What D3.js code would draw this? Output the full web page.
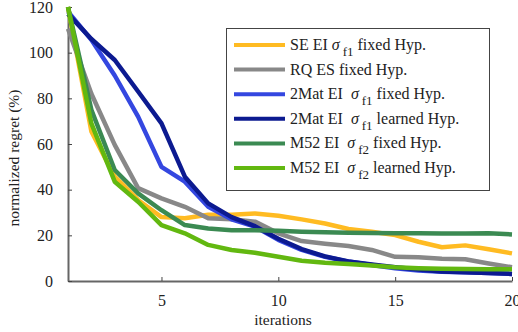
<!DOCTYPE html>
<html>
<head>
<meta charset="utf-8">
<script src="https://cdn.jsdelivr.net/npm/d3@7/dist/d3.min.js"></script>
<style>
  body { margin: 0; background: #fff; }
  svg text { font-family: "Liberation Serif", "Times New Roman", "DejaVu Serif", serif; fill: #222; }
</style>
</head>
<body>
<svg width="518" height="332"></svg>
<script>
var iterations = d3.range(1, 21);

var seEiFixed     = [120, 65.5, 45.7, 35.5, 28, 27.5, 29, 29, 29.6, 28.6, 27, 25.2, 22.8, 21.6, 20.1, 17.2, 14.8, 15.6, 13.9, 12.1];
var rqEsFixed     = [110.5, 82, 59.6, 40.7, 36.2, 32.5, 27.5, 27, 26, 20.9, 17.5, 16.3, 15.3, 13.6, 10.6, 10.4, 9.7, 9.5, 7.7, 6];
var mat2EiFixed   = [118, 105.6, 90, 72, 50, 43.5, 32.5, 27, 23.8, 18, 13.6, 10.6, 8.5, 7, 5.6, 4.6, 4, 3.8, 3.5, 3.1];
var mat2EiLearned = [117, 106, 96.8, 83, 69, 45.7, 34, 28, 24, 18.5, 14, 10.8, 8.6, 7.2, 6, 5, 4.2, 3.8, 3.5, 3.1];
var m52EiFixed    = [120, 75, 48.6, 38.4, 31, 24.5, 23, 22.2, 22.2, 22, 21.6, 21.3, 21.1, 21, 20.9, 20.9, 20.8, 20.8, 20.9, 20.4];
var m52EiLearned  = [120, 69, 43.5, 34.7, 24.5, 20.9, 15.8, 13.6, 12.4, 10.6, 8.9, 8, 7.4, 6.8, 6, 5.6, 5.4, 5.3, 5.2, 5.1];

var seriesNames  = ["SE EI", "RQ ES", "2Mat EI", "2Mat EI", "M52 EI", "M52 EI"];
var seriesSigma  = ["f1", null, "f1", "f1", "f2", "f2"];
var seriesSuffix = ["fixed Hyp.", "fixed Hyp.", "fixed Hyp.", "learned Hyp.", "fixed Hyp.", "learned Hyp."];
var seriesColors = ["#ffbb22", "#888888", "#3447e0", "#0c1a90", "#3b8a52", "#62b810"];
var seriesValues = [seEiFixed, rqEsFixed, mat2EiFixed, mat2EiLearned, m52EiFixed, m52EiLearned];

var xTicks = [5, 10, 15, 20];
var yTicks = [0, 20, 40, 60, 80, 100, 120];

var svg = d3.select("svg");
var mLeft = 68, mRight = 512, mTop = 7, mBottom = 281;

var x = d3.scaleLinear().domain([1, 20]).range([mLeft, mRight]);
var y = d3.scaleLinear().domain([0, 120]).range([mBottom, mTop]);

// axes (inward ticks, no frame)
var xAxis = svg.append("g").attr("transform", "translate(0," + mBottom + ")")
  .call(d3.axisBottom(x).tickValues(xTicks).tickSizeInner(-4).tickSizeOuter(0).tickPadding(14));
var yAxis = svg.append("g").attr("transform", "translate(" + mLeft + ",0)")
  .call(d3.axisLeft(y).tickValues(yTicks).tickSizeInner(-4).tickSizeOuter(0).tickPadding(15));
[xAxis, yAxis].forEach(function(a){
  a.attr("font-family", null);
  a.select(".domain").attr("stroke", "#666").attr("stroke-width", 2);
  a.selectAll(".tick line").attr("stroke", "#444");
  a.selectAll(".tick text").attr("font-size", 16).attr("fill", "#222");
});

svg.append("text").attr("x", 283).attr("y", 325).attr("text-anchor", "middle")
  .attr("font-size", 15.5).text("iterations");
svg.append("text").attr("transform", "translate(19,158) rotate(-90)")
  .attr("text-anchor", "middle").attr("font-size", 15.5).text("normalized regret (%)");

var line = d3.line().x(function(d, i){ return x(iterations[i]); }).y(function(d){ return y(d); });

svg.append("g").selectAll("path").data(seriesValues).enter().append("path")
  .attr("d", line)
  .attr("fill", "none")
  .attr("stroke", function(d, i){ return seriesColors[i]; })
  .attr("stroke-width", 4.5)
  .attr("stroke-linejoin", "round");

// legend
var lg = svg.append("g");
lg.append("rect").attr("x", 226.5).attr("y", 28.5).attr("width", 263).attr("height", 162)
  .attr("fill", "#fff").attr("stroke", "#444").attr("stroke-width", 1);

seriesNames.forEach(function(name, i){
  var ry = 45 + i * 24.6;
  lg.append("line").attr("x1", 234).attr("x2", 285).attr("y1", ry).attr("y2", ry)
    .attr("stroke", seriesColors[i]).attr("stroke-width", 4);
  var t = lg.append("text").attr("x", 290).attr("y", ry + 5).attr("font-size", 16)
    .attr("xml:space", "preserve").style("white-space", "pre");
  if (seriesSigma[i]) {
    var gap = name.length > 5 ? "  " : " ";
    t.append("tspan").text(name + gap);
    t.append("tspan").attr("font-style", "italic").text("\u03c3");
    t.append("tspan").attr("font-size", 13).attr("dx", 3).attr("dy", 6).text(seriesSigma[i]);
    t.append("tspan").attr("dy", -6).text(" " + seriesSuffix[i]);
  } else {
    t.append("tspan").text(name + " " + seriesSuffix[i]);
  }
});
</script>
</body>
</html>
